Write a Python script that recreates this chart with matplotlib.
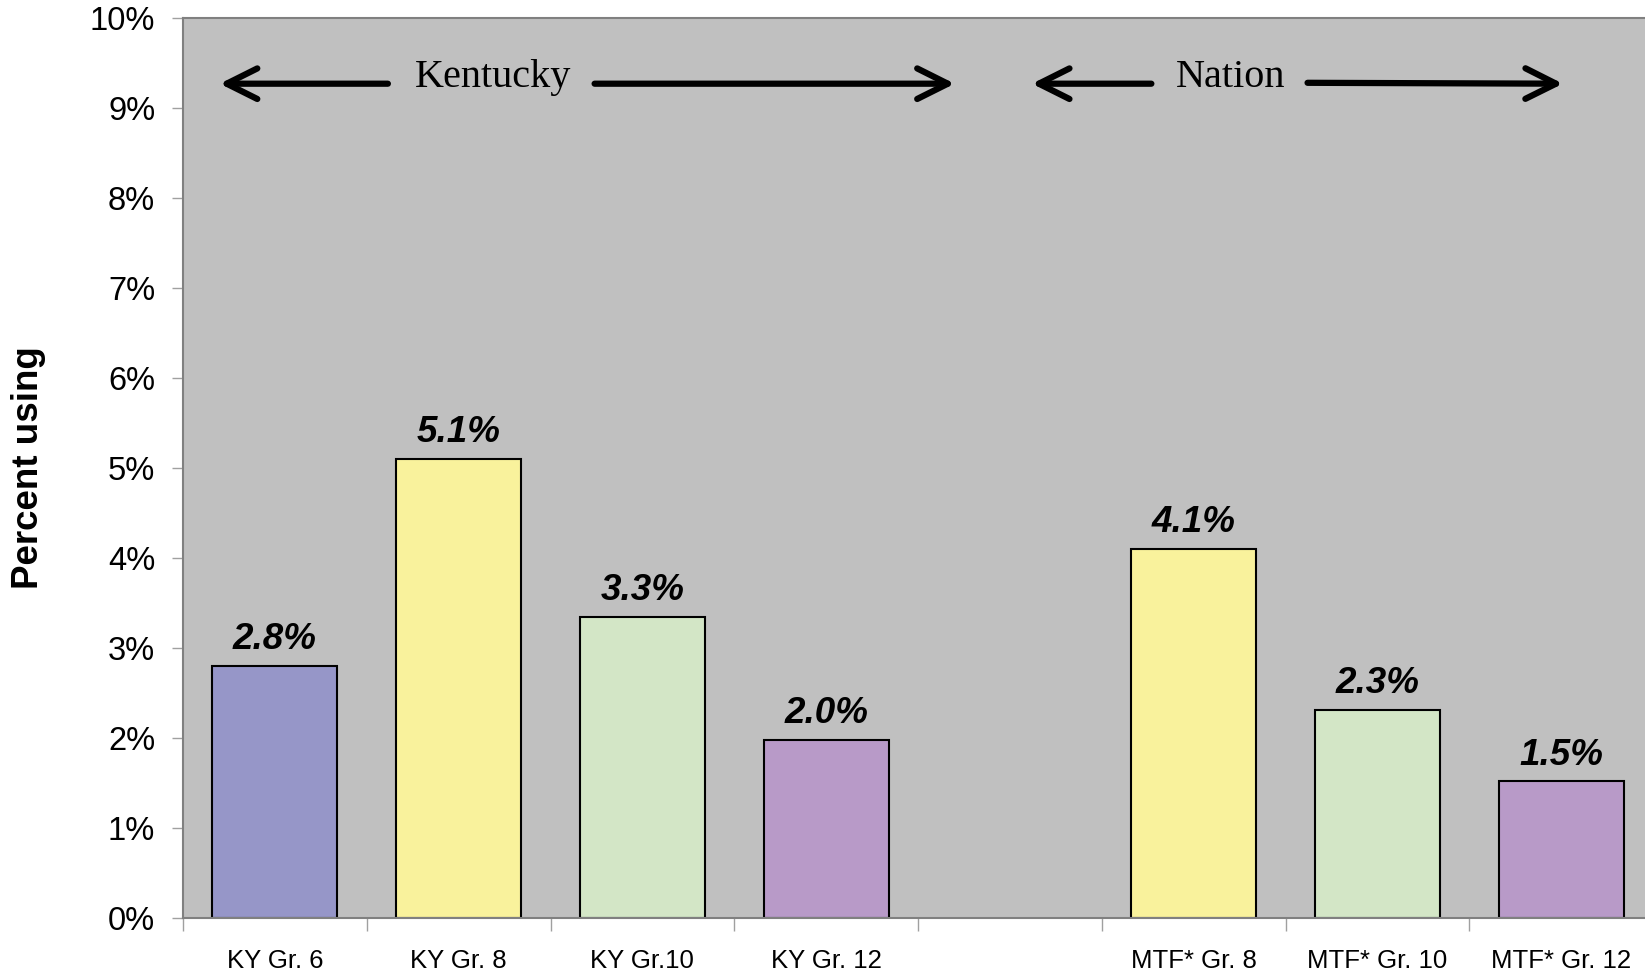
import numpy as np
import matplotlib.pyplot as plt
from matplotlib import font_manager

# data
categories = ['KY Gr. 6', 'KY Gr. 8', 'KY Gr.10', 'KY Gr. 12', '',
              'MTF* Gr. 8', 'MTF* Gr. 10', 'MTF* Gr. 12']
values = [2.8, 5.1, 3.35, 1.98, np.nan, 4.1, 2.31, 1.52]
value_labels = ['2.8%', '5.1%', '3.3%', '2.0%', '', '4.1%', '2.3%', '1.5%']
bar_colors = ['#9696C8', '#F9F29C', '#D3E6C6', '#B89AC8', 'none',
              '#F9F29C', '#D3E6C6', '#B89AC8']
yticks = [0, 1, 2, 3, 4, 5, 6, 7, 8, 9, 10]
ytick_labels = ['%d%%' % v for v in yticks]

names = set(f.name for f in font_manager.fontManager.ttflist)
if 'Liberation Sans Narrow' in names:
    xfont, xsize = 'Liberation Sans Narrow', 23
else:
    xfont, xsize = 'Liberation Sans', 18.5

fig = plt.figure(figsize=(16.45, 9.75), dpi=100)
ax = fig.add_axes([183/1645, 57/975, 1470/1645, 900/975])
ax.set_facecolor('#C0C0C0')

x = np.arange(len(categories))
ax.bar(x, values, width=0.68, color=bar_colors, edgecolor='black', linewidth=1.5, zorder=2)

for xi, v, lab in zip(x, values, value_labels):
    if lab:
        ax.annotate(lab, (xi, v), xytext=(0, 12), textcoords='offset points',
                    ha='center', va='baseline', fontsize=26.5, fontweight='bold',
                    fontstyle='italic', family='Liberation Sans')

ax.set_xlim(-0.5, 7.5)
ax.set_ylim(0, 10)
ax.set_yticks(yticks)
ax.set_yticklabels(ytick_labels, fontsize=23.5, family='Liberation Sans')
ax.tick_params(axis='y', length=8, width=1, color='#A0A0A0', pad=12)

ax.set_xticks(x)
ax.set_xticklabels(categories, fontsize=xsize, family=xfont)
ax.tick_params(axis='x', which='major', length=0, pad=22)
ax.set_xticks(np.arange(-0.5, 8, 1), minor=True)
ax.tick_params(axis='x', which='minor', length=9, width=1, color='#A0A0A0')

for s in ['left', 'top', 'bottom']:
    ax.spines[s].set_color('#808080')
    ax.spines[s].set_linewidth(1.5)
ax.spines['right'].set_visible(False)

ax.set_ylabel('Percent using', fontsize=26.5, fontweight='bold', family='Liberation Sans')
ax.yaxis.set_label_coords(-0.093, 0.5)

# group headers with arrows
arrow = dict(arrowstyle='->,head_length=1.1,head_width=0.55', lw=4.5, color='black',
             mutation_scale=20, shrinkA=0, shrinkB=0, capstyle='round')
ay = 9.27
ax.annotate('', xy=(-0.30, ay), xytext=(0.615, ay), arrowprops=arrow)
ax.annotate('', xy=(3.70, ay), xytext=(1.74, ay), arrowprops=arrow)
ax.annotate('', xy=(4.12, ay), xytext=(4.77, ay), arrowprops=arrow)
ax.annotate('', xy=(7.01, ay), xytext=(5.62, ay + 0.01), arrowprops=arrow)
ax.text(1.19, 9.34, 'Kentucky', ha='center', va='center', fontsize=29, family='Liberation Serif')
ax.text(5.20, 9.34, 'Nation', ha='center', va='center', fontsize=29, family='Liberation Serif')

fig.savefig('out.png', dpi=100)
